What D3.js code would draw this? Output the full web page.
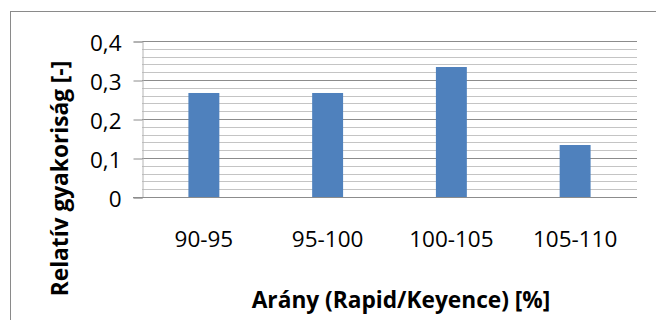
<!DOCTYPE html>
<html>
<head>
<meta charset="utf-8">
<script src="https://cdn.jsdelivr.net/npm/d3@7"></script>
<style>
  html, body { margin: 0; padding: 0; background: #fff; }
  svg { display: block; }
  text { font-family: "Open Sans", "Liberation Sans", sans-serif; fill: #000; }
</style>
</head>
<body>
<script>
// Relative frequency of the Rapid/Keyence ratio, grouped into 5 % bins
const categories = ["90-95", "95-100", "100-105", "105-110"];
const frequencies = [0.2667, 0.2667, 0.3333, 0.1333];
const majorTicks = [0, 0.1, 0.2, 0.3, 0.4];
const minorStep = 0.02;
const xTitle = "Arány (Rapid/Keyence) [%]";
const yTitle = "Relatív gyakoriság [-]";

const W = 656, H = 320;
const plot = { left: 142, right: 637, top: 41, bottom: 197 };

const svg = d3.select("body").append("svg")
  .attr("width", W).attr("height", H);

svg.append("rect").attr("width", W).attr("height", H).attr("fill", "#fff");

// chart frame (runs past the bottom/right of the view)
svg.append("rect")
  .attr("x", 10.5).attr("y", 11.5)
  .attr("width", 720).attr("height", 420)
  .attr("fill", "none").attr("stroke", "#8a8a8a").attr("stroke-width", 1);

const x = d3.scaleBand()
  .domain(categories)
  .range([plot.left, plot.right])
  .paddingInner(0.75)
  .paddingOuter(0.375);

const y = d3.scaleLinear()
  .domain([0, 0.4])
  .range([plot.bottom, plot.top]);

// minor gridlines
const minorVals = d3.range(0, 0.4 + 1e-9, minorStep)
  .filter(v => !majorTicks.some(t => Math.abs(t - v) < 1e-9));
svg.append("g").selectAll("line").data(minorVals).join("line")
  .attr("x1", plot.left).attr("x2", plot.right)
  .attr("y1", d => Math.round(y(d)) + 0.5).attr("y2", d => Math.round(y(d)) + 0.5)
  .attr("stroke", "#c4c4c4").attr("stroke-width", 1);

// major gridlines
svg.append("g").selectAll("line").data(majorTicks.filter(d => d > 0)).join("line")
  .attr("x1", plot.left).attr("x2", plot.right)
  .attr("y1", d => Math.round(y(d)) + 0.5).attr("y2", d => Math.round(y(d)) + 0.5)
  .attr("stroke", "#8c8c8c").attr("stroke-width", 1);

// bars
svg.append("g").selectAll("rect").data(categories).join("rect")
  .attr("x", d => x(d))
  .attr("width", x.bandwidth())
  .attr("y", (d, i) => y(frequencies[i]))
  .attr("height", (d, i) => y(0) - y(frequencies[i]))
  .attr("fill", "#4f81bd");

// y axis
const yAxis = d3.axisLeft(y)
  .tickValues(majorTicks)
  .tickSize(9)
  .tickPadding(12)
  .tickFormat(d => d === 0 ? "0" : d3.format(".1f")(d).replace(".", ","));
const gy = svg.append("g")
  .attr("transform", `translate(${plot.left + 0.5},0.5)`)
  .call(yAxis);
gy.select(".domain").attr("stroke", "#b4b4b4");
gy.selectAll(".tick line").attr("stroke", "#8c8c8c");
gy.selectAll(".tick text")
  .attr("font-size", 22.5)
  .attr("dy", "0.40em");

// x axis
const xAxis = d3.axisBottom(x).tickSize(0).tickPadding(0);
const gx = svg.append("g")
  .attr("transform", `translate(0,${plot.bottom + 0.5})`)
  .call(xAxis);
gx.select(".domain").attr("stroke", "#8c8c8c")
  .attr("d", `M${plot.left - 9},0H${plot.right}`);
gx.selectAll(".tick text")
  .attr("font-size", 22.5)
  .attr("dy", null)
  .attr("y", 49);

// axis titles
svg.append("text")
  .attr("x", 401).attr("y", 308)
  .attr("text-anchor", "middle")
  .attr("font-size", 22.7)
  .attr("font-weight", "bold")
  .text(xTitle);

svg.append("text")
  .attr("transform", "translate(68,178.5) rotate(-90)")
  .attr("text-anchor", "middle")
  .attr("font-size", 22.7)
  .attr("font-weight", "bold")
  .text(yTitle);
</script>
</body>
</html>
